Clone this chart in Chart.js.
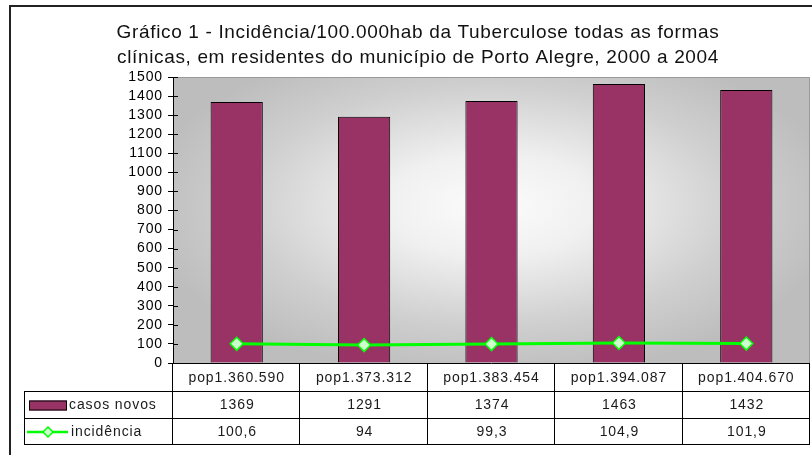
<!DOCTYPE html>
<html>
<head>
<meta charset="utf-8">
<script src="https://cdn.jsdelivr.net/npm/chart.js@4.4.1/dist/chart.umd.min.js"></script>
<style>
html,body{margin:0;padding:0;background:#fff;}
canvas{display:block;}
</style>
</head>
<body>
<canvas id="c" width="812" height="455"></canvas>
<script>
const titleLines = [
  'Gráfico 1 - Incidência/100.000hab da Tuberculose todas as formas',
  'clínicas, em residentes do município de Porto Alegre, 2000 a 2004'
];
const categories = ['pop1.360.590', 'pop1.373.312', 'pop1.383.454', 'pop1.394.087', 'pop1.404.670'];
const casosNovos = [1369, 1291, 1374, 1463, 1432];
const incidencia = [100.6, 94, 99.3, 104.9, 101.9];
const seriesNames = ['casos novos', 'incidência'];
const yMin = 0, yMax = 1500, yStep = 100;

const FONT = "'Liberation Sans', Arial, sans-serif";
const BAR_COLOR = '#993366';
const LINE_COLOR = '#00ff00';
const MARK_FILL = '#ccffcc';
const SMALL_SPACING = '0.9px';

function fmt(v) { return String(v).replace('.', ','); }

const bgPlugin = {
  id: 'bg',
  beforeDraw(chart) {
    const ctx = chart.ctx, a = chart.chartArea;
    ctx.save();
    ctx.fillStyle = '#fff';
    ctx.fillRect(0, 0, chart.width, chart.height);
    const cx = a.left + (a.right - a.left) * 0.5, cy = a.top + (a.bottom - a.top) * 0.45;
    const rx = (a.right - a.left) * 0.55, ry = (a.bottom - a.top) * 0.6;
    ctx.translate(cx, cy);
    ctx.scale(1, ry / rx);
    const g = ctx.createRadialGradient(0, 0, 0, 0, 0, rx);
    g.addColorStop(0, '#fcfcfc');
    g.addColorStop(0.3, '#f0f0f0');
    g.addColorStop(0.7, '#cfcfcf');
    g.addColorStop(1, '#bdbdbd');
    ctx.fillStyle = g;
    ctx.fillRect(a.left - cx, (a.top - cy) * rx / ry, a.right - a.left, (a.bottom - a.top) * rx / ry);
    ctx.restore();
    ctx.save();
    ctx.strokeStyle = '#9a9a9a';
    ctx.lineWidth = 1;
    ctx.beginPath();
    ctx.moveTo(a.left, a.top + 0.5);
    ctx.lineTo(a.right - 0.5, a.top + 0.5);
    ctx.lineTo(a.right - 0.5, a.bottom);
    ctx.stroke();
    ctx.restore();
    // title
    ctx.save();
    ctx.fillStyle = '#111';
    ctx.font = '19px ' + FONT;
    ctx.letterSpacing = '0.65px';
    ctx.textAlign = 'center';
    ctx.textBaseline = 'alphabetic';
    ctx.fillText(titleLines[0], 418, 38);
    ctx.fillText(titleLines[1], 418, 63);
    ctx.restore();
    // spacing for tick labels drawn by the scales
    ctx.letterSpacing = SMALL_SPACING;
  },
  afterDraw(chart) {
    const ctx = chart.ctx, a = chart.chartArea;
    const y = chart.scales.y, x = chart.scales.x;
    ctx.save();
    ctx.letterSpacing = SMALL_SPACING;
    // inner tick marks
    ctx.strokeStyle = '#000';
    ctx.lineWidth = 1;
    ctx.beginPath();
    for (let v = yMin; v <= yMax; v += yStep) {
      const py = Math.round(y.getPixelForValue(v)) + 0.5;
      ctx.moveTo(a.left, py);
      ctx.lineTo(a.left + 5, py);
    }
    ctx.stroke();
    // data table
    const n = categories.length;
    const colW = (a.right - a.left) / n;
    const top = a.bottom;
    const r1 = 391, r2 = 418, r3 = 444;
    const legL = 24;
    ctx.strokeStyle = '#000';
    ctx.lineWidth = 1;
    ctx.beginPath();
    ctx.moveTo(a.left, top + 0.5); ctx.lineTo(a.right, top + 0.5);
    [r1, r2, r3].forEach(r => { ctx.moveTo(legL, r + 0.5); ctx.lineTo(a.right, r + 0.5); });
    for (let i = 0; i <= n; i++) {
      const px = Math.round(a.left + i * colW) - 0.5;
      ctx.moveTo(px, top); ctx.lineTo(px, r3 + 1);
    }
    ctx.moveTo(legL + 0.5, r1); ctx.lineTo(legL + 0.5, r3 + 1);
    ctx.stroke();
    ctx.fillStyle = '#1a1a1a';
    ctx.font = '14px ' + FONT;
    ctx.textAlign = 'center';
    ctx.textBaseline = 'middle';
    const m1 = (r1 + r2) / 2 + 1, m2 = (r2 + r3) / 2 + 1;
    for (let i = 0; i < n; i++) {
      const cxp = x.getPixelForValue(i) + 0.5;
      ctx.fillText(String(casosNovos[i]), cxp, m1);
      ctx.fillText(fmt(incidencia[i]), cxp, m2);
    }
    // legend keys
    ctx.fillStyle = BAR_COLOR;
    ctx.fillRect(29, m1 - 5, 38, 10);
    ctx.strokeStyle = '#000';
    ctx.strokeRect(29.5, m1 - 4.5, 37, 9);
    ctx.strokeStyle = LINE_COLOR;
    ctx.lineWidth = 2.5;
    ctx.beginPath(); ctx.moveTo(27, m2); ctx.lineTo(68, m2); ctx.stroke();
    ctx.fillStyle = MARK_FILL;
    ctx.lineWidth = 1.5;
    ctx.beginPath();
    ctx.moveTo(48, m2 - 5); ctx.lineTo(53, m2); ctx.lineTo(48, m2 + 5); ctx.lineTo(43, m2); ctx.closePath();
    ctx.fill(); ctx.stroke();
    ctx.fillStyle = '#1a1a1a';
    ctx.textAlign = 'left';
    ctx.fillText(seriesNames[0], 69, m1);
    ctx.fillText(seriesNames[1], 71, m2);
    // outer frame
    ctx.strokeStyle = '#222';
    ctx.lineWidth = 2;
    ctx.beginPath();
    ctx.moveTo(10, chart.height); ctx.lineTo(10, 6); ctx.lineTo(chart.width, 6);
    ctx.stroke();
    ctx.restore();
  }
};

new Chart(document.getElementById('c'), {
  data: {
    labels: categories,
    datasets: [
      {
        type: 'line',
        label: seriesNames[1],
        data: incidencia,
        borderColor: LINE_COLOR,
        borderWidth: 3,
        pointStyle: 'rectRot',
        pointRadius: 6.5,
        pointBackgroundColor: MARK_FILL,
        pointBorderColor: LINE_COLOR,
        pointBorderWidth: 1.5,
        tension: 0,
        order: 0
      },
      {
        type: 'bar',
        label: seriesNames[0],
        data: casosNovos,
        backgroundColor: BAR_COLOR,
        borderColor: '#000',
        borderWidth: 1,
        barPercentage: 0.41,
        categoryPercentage: 1,
        order: 1
      }
    ]
  },
  options: {
    responsive: false,
    animation: false,
    layout: { autoPadding: false, padding: { left: 22, right: 2, top: 77, bottom: 0 } },
    plugins: {
      legend: { display: false },
      tooltip: { enabled: false },
      title: { display: false }
    },
    scales: {
      x: {
        type: 'category',
        offset: true,
        grid: { display: false, drawTicks: false },
        border: { display: false },
        ticks: { color: '#1a1a1a', font: { family: FONT, size: 14 }, padding: 7, maxRotation: 0, autoSkip: false },
        afterFit(s) { s.height = 92; }
      },
      y: {
        min: yMin, max: yMax,
        ticks: {
          stepSize: yStep, autoSkip: false, color: '#000',
          font: { family: FONT, size: 14 }, padding: 5,
          callback: v => String(v)
        },
        grid: { drawOnChartArea: false, drawTicks: true, tickLength: 5, color: '#000' },
        border: { display: true, color: '#000', width: 1 },
        afterFit(s) { s.width = 151; }
      }
    }
  },
  plugins: [bgPlugin]
});
</script>
</body>
</html>
